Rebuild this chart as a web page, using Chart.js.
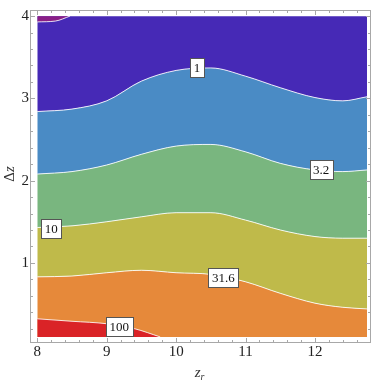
<!DOCTYPE html>
<html>
<head>
<meta charset="utf-8">
<script src="https://cdn.jsdelivr.net/npm/chart.js"></script>
<style>
  html, body { margin: 0; padding: 0; background: #fff; }
  #wrap { width: 374px; height: 383px; }
</style>
</head>
<body>
<div id="wrap"><canvas id="myChart"></canvas></div>
<script>
// contour boundaries (Δz against z_r)
var xRange = [8, 12.75];
var yTop = 4, yBottom = 0.1;
var xs = [8, 8.5, 9, 9.5, 10, 10.5, 11, 11.5, 12, 12.4, 12.75];
var level1 = [2.84, 2.87, 2.97, 3.21, 3.34, 3.37, 3.27, 3.13, 3.01, 2.97, 3.02];
var level3_2 = [2.08, 2.11, 2.19, 2.32, 2.42, 2.44, 2.35, 2.21, 2.13, 2.11, 2.13];
var level10 = [1.43, 1.45, 1.50, 1.56, 1.61, 1.61, 1.52, 1.40, 1.32, 1.30, 1.30];
var level31_6 = [0.83, 0.84, 0.88, 0.91, 0.88, 0.86, 0.77, 0.63, 0.51, 0.46, 0.44];
var x100 = [8, 8.5, 9, 9.4, 9.77];
var level100 = [0.32, 0.29, 0.26, 0.20, 0.10];
var xCorner = [8, 8.26, 8.47];
var levelCorner = [3.93, 3.94, 4.0];

var xTicks = [8, 9, 10, 11, 12];
var yTicks = [1, 2, 3, 4];

var contourLabels = ['1', '3.2', '10', '31.6', '100'];
var labelX = [10.30, 12.09, 8.20, 10.68, 9.18];
var labelY = [3.375, 2.14, 1.42, 0.82, 0.226];

function pts(xa, ya) {
  return xa.map(function(x, i) { return { x: x, y: ya[i] }; });
}

var SERIF = '"Liberation Serif", "DejaVu Serif", serif';
var lineCol = 'rgba(255,255,255,0.85)';

function edge(data, fill, color) {
  return {
    data: data, fill: fill, backgroundColor: color,
    borderColor: 'transparent', borderWidth: 0, pointRadius: 0
  };
}
function contour(data, fill, color) {
  return {
    data: data, fill: fill, backgroundColor: color,
    borderColor: lineCol, borderWidth: 1, pointRadius: 0,
    cubicInterpolationMode: 'monotone'
  };
}

var framePlugin = {
  id: 'frame',
  afterDatasetsDraw: function(chart) {
    var ctx = chart.ctx, sx = chart.scales.x, sy = chart.scales.y;
    ctx.save();
    ctx.font = '13px ' + SERIF;
    ctx.textAlign = 'center';
    ctx.textBaseline = 'middle';
    contourLabels.forEach(function(t, i) {
      var cx = sx.getPixelForValue(labelX[i]);
      var cy = sy.getPixelForValue(labelY[i]);
      var w = Math.round(ctx.measureText(t).width) + 7;
      var h = 19;
      var l = Math.round(cx - w / 2) + 0.5, tp = Math.round(cy - h / 2) + 0.5;
      ctx.fillStyle = '#fff';
      ctx.fillRect(l, tp, w, h);
      ctx.strokeStyle = '#555';
      ctx.lineWidth = 1;
      ctx.strokeRect(l, tp, w, h);
      ctx.fillStyle = '#111';
      ctx.fillText(t, cx, cy + 1);
    });
    ctx.restore();
  },
  afterDraw: function(chart) {
    var ctx = chart.ctx, a = chart.chartArea;
    var sx = chart.scales.x, sy = chart.scales.y;
    ctx.save();
    ctx.strokeStyle = '#a8a8a8';
    ctx.lineWidth = 1;
    ctx.strokeRect(a.left + 0.5, a.top + 0.5, a.right - a.left - 1, a.bottom - a.top - 1);
    ctx.beginPath();
    var v, p, len;
    for (v = 7.8; v <= 12.81; v += 0.2) {
      v = Math.round(v * 10) / 10;
      p = Math.round(sx.getPixelForValue(v)) + 0.5;
      if (p <= a.left + 1 || p >= a.right - 1) continue;
      len = Math.abs(v - Math.round(v)) < 1e-6 ? 5 : 3;
      ctx.moveTo(p, a.bottom); ctx.lineTo(p, a.bottom - len);
      ctx.moveTo(p, a.top); ctx.lineTo(p, a.top + len);
    }
    for (v = 0; v <= 4.1; v += 0.2) {
      v = Math.round(v * 10) / 10;
      p = Math.round(sy.getPixelForValue(v)) + 0.5;
      if (p <= a.top + 1 || p >= a.bottom - 1) continue;
      len = Math.abs(v - Math.round(v)) < 1e-6 ? 5 : 3;
      ctx.moveTo(a.left, p); ctx.lineTo(a.left + len, p);
      ctx.moveTo(a.right, p); ctx.lineTo(a.right - len, p);
    }
    ctx.stroke();

    // axis titles
    ctx.fillStyle = '#333';
    ctx.textBaseline = 'alphabetic';
    ctx.font = 'italic 15px ' + SERIF;
    var cx = (a.left + a.right) / 2 - 2;
    ctx.textAlign = 'right';
    ctx.fillText('z', cx + 2, 377);
    ctx.font = 'italic 10px ' + SERIF;
    ctx.textAlign = 'left';
    ctx.fillText('r', cx + 2, 380);

    ctx.translate(14, 173);
    ctx.rotate(-Math.PI / 2);
    ctx.font = '15px ' + SERIF;
    ctx.textAlign = 'right';
    ctx.fillText('\u0394', 1, 0);
    ctx.font = 'italic 15px ' + SERIF;
    ctx.textAlign = 'left';
    ctx.fillText('z', 1, 0);
    ctx.restore();
  }
};

new Chart('myChart', {
  type: 'line',
  data: {
    datasets: [
      edge(pts(xRange, [yTop, yTop]), false, 'transparent'),
      contour(pts(xCorner, levelCorner), 0, '#8a1f86'),
      contour(pts(xs, level1), 0, '#4629b6'),
      contour(pts(xs, level3_2), 2, '#4a8bc5'),
      contour(pts(xs, level10), 3, '#79b67f'),
      contour(pts(x100, level100), 7, '#da2327'),
      contour(pts(xs, level31_6), 4, '#bfba4a'),
      edge(pts(xRange, [yBottom, yBottom]), 6, '#e6893a')
    ]
  },
  options: {
    responsive: true,
    maintainAspectRatio: false,
    animation: false,
    events: [],
    layout: { padding: { top: 1, right: 3, left: 0, bottom: 0 } },
    plugins: {
      legend: { display: false },
      tooltip: { enabled: false },
      title: { display: false }
    },
    scales: {
      x: {
        type: 'linear',
        min: 7.895,
        max: 12.807,
        afterBuildTicks: function(s) { s.ticks = xTicks.map(function(v) { return { value: v }; }); },
        afterFit: function(s) { s.height = 40; },
        ticks: {
          autoSkip: false, maxRotation: 0, padding: 0,
          color: '#222',
          font: { family: SERIF, size: 15 }
        },
        grid: { display: false, drawTicks: false },
        border: { display: false }
      },
      y: {
        type: 'linear',
        min: 0.0258,
        max: 4.0746,
        afterBuildTicks: function(s) { s.ticks = yTicks.map(function(v) { return { value: v }; }); },
        afterFit: function(s) { s.width = 30; },
        ticks: {
          padding: 1,
          color: '#222',
          font: { family: SERIF, size: 15 }
        },
        grid: { display: false, drawTicks: false },
        border: { display: false }
      }
    }
  },
  plugins: [framePlugin]
});
</script>
</body>
</html>
